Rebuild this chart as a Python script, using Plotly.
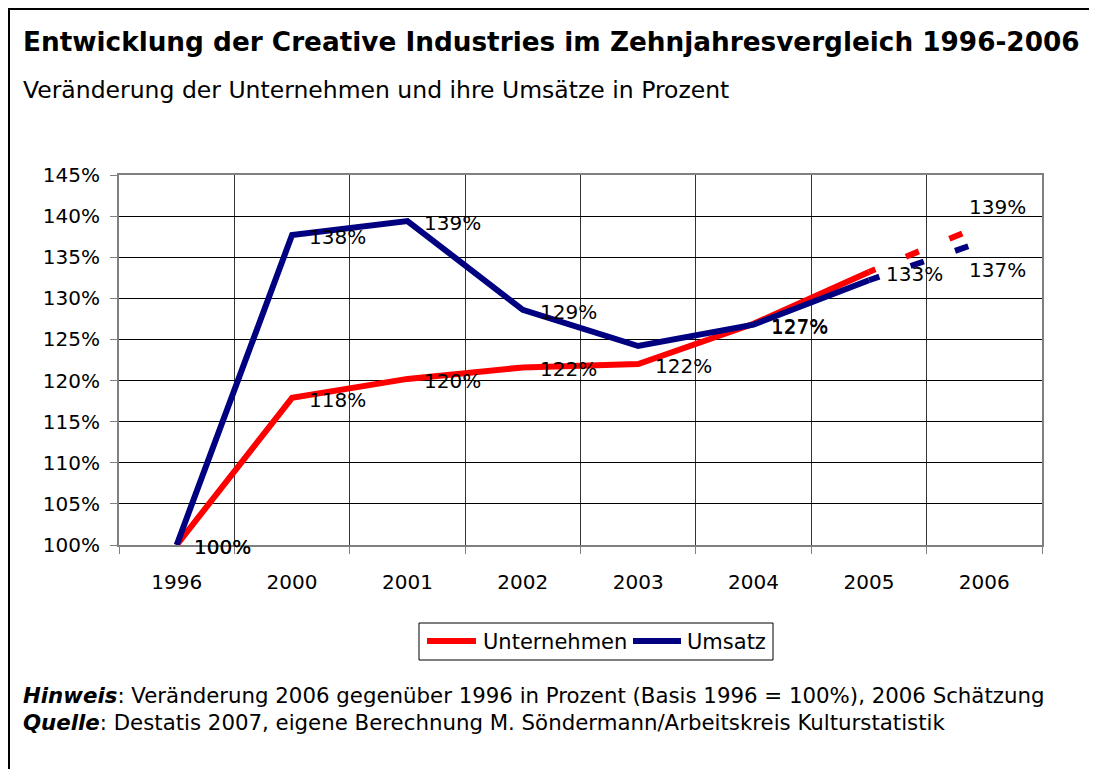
import plotly.graph_objects as go

# ---- data ----
years = ["1996", "2000", "2001", "2002", "2003", "2004", "2005", "2006"]
unternehmen = [100.0, 117.9, 120.2, 121.6, 122.0, 126.9, 133.2, 139.0]
umsatz = [100.0, 137.7, 139.4, 128.6, 124.2, 126.8, 132.2, 137.0]
label_unternehmen = [True, True, True, True, True, True, True, True]
label_umsatz = [True, True, True, True, False, True, False, True]
y_ticks = [100, 105, 110, 115, 120, 125, 130, 135, 140, 145]
series_names = ["Unternehmen", "Umsatz"]

title = "Entwicklung der Creative Industries im Zehnjahresvergleich 1996-2006"
subtitle = "Veränderung der Unternehmen und ihre Umsätze in Prozent"
note1 = "<b><i>Hinweis</i></b>: Veränderung 2006 gegenüber 1996 in Prozent (Basis 1996 = 100%), 2006 Schätzung"
note2 = "<b><i>Quelle</i></b>: Destatis 2007, eigene Berechnung M. Söndermann/Arbeitskreis Kulturstatistik"

RED = "#FF0000"
BLUE = "#000080"
FONT = "DejaVu Sans"

OFF = 8  # page body margin
PAGE_W, PAGE_H = 1097, 769
W, H = PAGE_W - OFF, PAGE_H - OFF  # figure fits inside the page without overflow
# plot area in page pixels: x 119..1042, y 175..545
L = 119 - OFF
T = 175 - OFF
R = W - (1042 - OFF)
B = H - (545 - OFF)
PW, PH = W - L - R, H - T - B


def px(x):
    return (x - OFF - L) / PW


def py(y):
    return (H - B - (y - OFF)) / PH


fig = go.Figure()
n_solid = len(years) - 1  # last point is an estimate, drawn dashed

for name, vals, color, dash in [
    (series_names[0], unternehmen, RED, "7px,33px,14px,33px,14px,33px"),
    (series_names[1], umsatz, BLUE, "11px,33px,14px,33px,14px,33px"),
]:
    fig.add_trace(go.Scatter(
        x=years[:n_solid], y=vals[:n_solid], mode="lines", name=name,
        line=dict(color=color, width=6), hoverinfo="skip", showlegend=False))
    fig.add_trace(go.Scatter(
        x=years[n_solid - 1:], y=vals[n_solid - 1:], mode="lines", showlegend=False,
        line=dict(color=color, width=6, dash=dash), hoverinfo="skip"))

annotations = []
for vals, flags, last_dy in [(unternehmen, label_unternehmen, 17), (umsatz, label_umsatz, -29)]:
    for i, (v, show) in enumerate(zip(vals, flags)):
        if not show:
            continue
        last = i == len(years) - 1
        annotations.append(dict(
            x=i, y=v, xref="x", yref="y", text=f"{v:.0f}%", showarrow=False,
            xanchor="left", yanchor="middle",
            xshift=-17 if last else 15, yshift=last_dy if last else -2,
            font=dict(family=FONT, size=20, color="#000")))

annotations += [
    dict(x=px(21), y=py(42), xref="paper", yref="paper", text=f"<b>{title}</b>",
         showarrow=False, xanchor="left", yanchor="middle",
         font=dict(family=FONT, size=26.3, color="#000")),
    dict(x=px(21), y=py(90), xref="paper", yref="paper", text=subtitle,
         showarrow=False, xanchor="left", yanchor="middle",
         font=dict(family=FONT, size=23.5, color="#000")),
    dict(x=px(21), y=py(695), xref="paper", yref="paper", text=note1,
         showarrow=False, xanchor="left", yanchor="middle",
         font=dict(family=FONT, size=21.3, color="#000")),
    dict(x=px(21), y=py(722), xref="paper", yref="paper", text=note2,
         showarrow=False, xanchor="left", yanchor="middle",
         font=dict(family=FONT, size=21.3, color="#000")),
    # legend texts
    dict(x=px(481), y=py(642), xref="paper", yref="paper", text=series_names[0],
         showarrow=False, xanchor="left", yanchor="middle",
         font=dict(family=FONT, size=21, color="#000")),
    dict(x=px(685), y=py(642), xref="paper", yref="paper", text=series_names[1],
         showarrow=False, xanchor="left", yanchor="middle",
         font=dict(family=FONT, size=21, color="#000")),
]

shapes = [
    # outer frame: left and top edges
    dict(type="line", xref="paper", yref="paper",
         x0=px(OFF + 1), x1=px(OFF + 1), y0=py(PAGE_H + 10), y1=py(OFF),
         line=dict(color="#000", width=2), layer="above"),
    dict(type="line", xref="paper", yref="paper",
         x0=px(OFF), x1=px(PAGE_W + 10), y0=py(OFF + 1), y1=py(OFF + 1),
         line=dict(color="#000", width=2), layer="above"),
    # legend box
    dict(type="rect", xref="paper", yref="paper",
         x0=px(419), x1=px(773), y0=py(660), y1=py(623),
         line=dict(color="#000", width=1), fillcolor="white", layer="above"),
    dict(type="line", xref="paper", yref="paper",
         x0=px(427), x1=px(476), y0=py(641), y1=py(641),
         line=dict(color=RED, width=6), layer="above"),
    dict(type="line", xref="paper", yref="paper",
         x0=px(633), x1=px(681), y0=py(641), y1=py(641),
         line=dict(color=BLUE, width=6), layer="above"),
]

fig.update_layout(
    width=W, height=H,
    margin=dict(l=L, r=R, t=T, b=B, autoexpand=False),
    paper_bgcolor="white", plot_bgcolor="white",
    font=dict(family=FONT, size=20, color="#000"),
    showlegend=False,
    annotations=annotations,
    shapes=shapes,
    xaxis=dict(type="category", categoryorder="array", categoryarray=years,
               range=[-0.5, len(years) - 0.5], tickson="boundaries",
               showgrid=True, gridcolor="#333", gridwidth=1,
               ticks="outside", ticklen=7, tickcolor="#808080", tickwidth=1,
               ticklabelstandoff=18,
               showline=True, linecolor="#808080", linewidth=2, mirror=True,
               tickfont=dict(family=FONT, size=20), fixedrange=True),
    yaxis=dict(range=[100, 145], tickvals=y_ticks, ticktext=[f"{t}%" for t in y_ticks],
               showgrid=True, gridcolor="#000", gridwidth=1,
               ticks="outside", ticklen=7, tickcolor="#808080", tickwidth=1,
               ticklabelstandoff=6,
               showline=True, linecolor="#808080", linewidth=2, mirror=True,
               zeroline=False, tickfont=dict(family=FONT, size=20), fixedrange=True),
)

fig.write_html("out.html")
